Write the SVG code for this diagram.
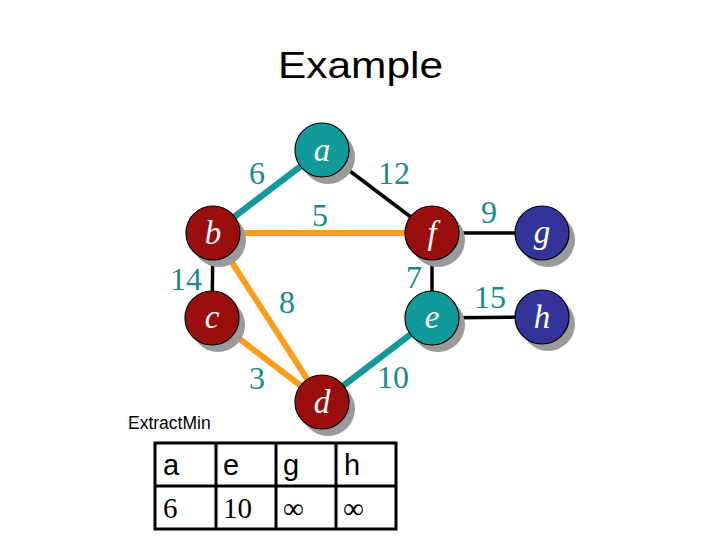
<svg xmlns="http://www.w3.org/2000/svg" width="720" height="540" viewBox="0 0 720 540">
<style>
.title{font-family:"Liberation Sans",Arial,sans-serif;font-size:37px;fill:#000}
.cap{font-family:"Liberation Sans",Arial,sans-serif;font-size:17.5px;fill:#000}
.sh{fill:#9a9a9a}
.n{stroke:#000;stroke-width:1.2}
.red{fill:#9b0e0e}
.teal{fill:#129999}
.blue{fill:#333399}
.nl{font-family:"Liberation Serif","Times New Roman",serif;font-style:italic;font-size:33px;fill:#fff;text-anchor:middle}
.el{font-family:"Liberation Serif","Times New Roman",serif;font-size:32px;fill:#178b8b;text-anchor:middle}
.blk{stroke:#000;stroke-width:3.5}
.org{stroke:#ff9d1a;stroke-width:6}
.tl{stroke:#129999;stroke-width:6.5}
.tb{fill:none;stroke:#000;stroke-width:3}
.ts{font-family:"Liberation Sans",Arial,sans-serif;font-size:29px;fill:#000}
.tn{font-family:"Liberation Serif","Times New Roman",serif;font-size:29px;fill:#000}
</style>
<rect width="720" height="540" fill="#fff"/>
<text class="title" x="278" y="78" textLength="165" lengthAdjust="spacingAndGlyphs">Example</text>
<g id="connectors">
<line class="tl" x1="322" y1="150" x2="213" y2="233"/>
<line class="blk" x1="322" y1="150" x2="432" y2="233"/>
<line class="org" x1="213" y1="233" x2="432" y2="233"/>
<line class="blk" x1="213" y1="233" x2="212" y2="318"/>
<line class="org" x1="213" y1="233" x2="322" y2="402"/>
<line class="blk" x1="432" y1="233" x2="432" y2="318"/>
<line class="org" x1="212" y1="318" x2="322" y2="402"/>
<line class="tl" x1="322" y1="402" x2="432" y2="318"/>
<line class="blk" x1="432" y1="233" x2="542" y2="233"/>
<line class="blk" x1="432" y1="318" x2="542" y2="317"/>
</g>
<g id="edge-labels">
<text class="el" x="257" y="184">6</text>
<text class="el" x="394" y="184">12</text>
<text class="el" x="320" y="226">5</text>
<text class="el" x="186" y="290">14</text>
<text class="el" x="287" y="313">8</text>
<text class="el" x="414" y="288">7</text>
<text class="el" x="257" y="389">3</text>
<text class="el" x="393" y="388">10</text>
<text class="el" x="489" y="223">9</text>
<text class="el" x="490" y="308">15</text>
</g>
<g id="node-a"><circle class="sh" cx="328" cy="157" r="27"/><circle class="n teal" cx="322" cy="150" r="27"/><text class="nl" x="322" y="161">a</text></g>
<g id="node-b"><circle class="sh" cx="219" cy="240" r="27"/><circle class="n red" cx="213" cy="233" r="27"/><text class="nl" x="213" y="244">b</text></g>
<g id="node-f"><circle class="sh" cx="438" cy="240" r="27"/><circle class="n red" cx="432" cy="233" r="27"/><text class="nl" x="432" y="244">f</text></g>
<g id="node-c"><circle class="sh" cx="218" cy="325" r="27"/><circle class="n red" cx="212" cy="318" r="27"/><text class="nl" x="212" y="328">c</text></g>
<g id="node-e"><circle class="sh" cx="438" cy="325" r="27"/><circle class="n teal" cx="432" cy="318" r="27"/><text class="nl" x="432" y="328">e</text></g>
<g id="node-d"><circle class="sh" cx="328" cy="409" r="27"/><circle class="n red" cx="322" cy="402" r="27"/><text class="nl" x="322" y="413">d</text></g>
<g id="node-g"><circle class="sh" cx="548" cy="240" r="27"/><circle class="n blue" cx="542" cy="233" r="27"/><text class="nl" x="542" y="243">g</text></g>
<g id="node-h"><circle class="sh" cx="548" cy="324" r="27"/><circle class="n blue" cx="542" cy="317" r="27"/><text class="nl" x="542" y="328">h</text></g>
<text class="cap" x="128" y="429">ExtractMin</text>
<g id="table">
<rect class="tb" x="155" y="443" width="241" height="86"/>
<line class="tb" x1="155" y1="486" x2="396" y2="486"/>
<line class="tb" x1="216" y1="443" x2="216" y2="529"/>
<line class="tb" x1="276" y1="443" x2="276" y2="529"/>
<line class="tb" x1="336" y1="443" x2="336" y2="529"/>
<text class="ts" x="163" y="475">a</text>
<text class="ts" x="223" y="475">e</text>
<text class="ts" x="283" y="475">g</text>
<text class="ts" x="344" y="475">h</text>
<text class="tn" x="163" y="518">6</text>
<text class="tn" x="223" y="518">10</text>
<text class="tn" x="283" y="518">∞</text>
<text class="tn" x="343" y="518">∞</text>
</g>
</svg>
